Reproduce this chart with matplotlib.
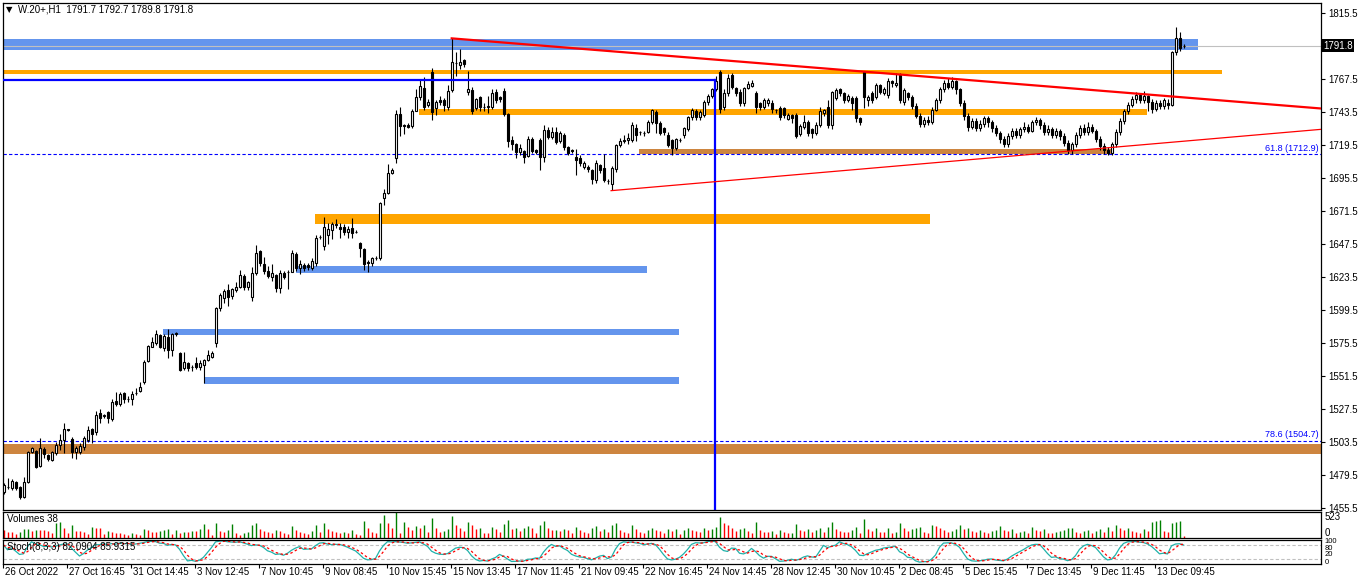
import matplotlib
matplotlib.use("Agg")
import matplotlib.pyplot as plt
import matplotlib.transforms as mtransforms
import numpy as np
import pandas as pd

plt.rcParams['font.family'] = ['Liberation Sans', 'DejaVu Sans']

# ---- price data, one H1 bar per entry ----
opens = [
    1467.6, 1471.0, 1470.0, 1474.8, 1471.0, 1463.7, 1474.7, 1496.7, 1497.4, 1486.5,
    1498.6, 1494.4, 1490.7, 1496.0, 1501.5, 1505.2, 1512.9, 1505.7, 1496.5, 1496.7,
    1499.8, 1505.2, 1512.9, 1511.0, 1524.6, 1522.5, 1525.4, 1520.2, 1533.5, 1531.4,
    1539.1, 1535.3, 1534.8, 1539.0, 1541.0, 1547.5, 1562.7, 1573.1, 1575.4, 1581.5,
    1571.8, 1580.3, 1570.6, 1582.2, 1568.7, 1557.3, 1560.9, 1558.0, 1561.0, 1558.0,
    1559.7, 1563.3, 1565.7, 1575.5, 1600.9, 1608.2, 1614.2, 1609.8, 1614.2, 1616.2,
    1624.4, 1616.2, 1609.3, 1626.3, 1642.5, 1632.9, 1628.0, 1623.9, 1625.1, 1615.4,
    1626.3, 1627.3, 1627.5, 1640.2, 1630.0, 1632.4, 1632.4, 1630.0, 1634.0, 1652.5,
    1646.2, 1654.2, 1657.6, 1661.5, 1660.2, 1660.2, 1656.6, 1659.0, 1656.6, 1648.6,
    1643.8, 1634.7, 1633.6, 1637.2, 1637.2, 1680.8, 1684.9, 1699.0, 1709.9, 1741.9,
    1733.8, 1734.0, 1733.4, 1744.5, 1754.2, 1760.8, 1748.6, 1772.8, 1746.2, 1752.3,
    1752.3, 1747.4, 1759.5, 1779.5, 1777.7, 1781.3, 1758.1, 1759.5, 1746.2, 1754.2,
    1747.4, 1747.2, 1747.4, 1757.9, 1754.2, 1758.8, 1742.1, 1723.2, 1720.3, 1714.3,
    1715.5, 1711.8, 1724.0, 1716.0, 1723.2, 1710.6, 1730.5, 1725.6, 1729.2, 1722.5,
    1726.8, 1718.3, 1715.8, 1711.0, 1710.3, 1703.3, 1703.8, 1701.4, 1694.1, 1705.0,
    1703.1, 1693.7, 1691.0, 1702.1, 1719.6, 1722.7, 1723.2, 1723.2, 1731.7, 1729.3,
    1728.3, 1729.3, 1736.5, 1743.8, 1735.8, 1731.7, 1726.8, 1723.2, 1717.2, 1723.5,
    1726.8, 1731.0, 1739.7, 1744.5, 1739.7, 1741.4, 1751.0, 1755.2, 1760.2, 1772.8,
    1747.0, 1757.1, 1770.4, 1760.8, 1758.3, 1749.9, 1760.8, 1762.4, 1757.1, 1749.9,
    1747.4, 1749.9, 1750.4, 1745.2, 1746.2, 1746.2, 1738.2, 1741.4, 1741.4, 1727.5,
    1732.9, 1736.5, 1731.0, 1728.5, 1734.1, 1742.6, 1747.4, 1734.1, 1753.5, 1760.2,
    1757.1, 1752.3, 1753.5, 1753.5, 1739.0, 1772.8, 1752.3, 1757.6, 1754.7, 1763.2,
    1757.1, 1755.9, 1766.3, 1763.2, 1770.4, 1751.0, 1757.1, 1754.7, 1748.0, 1741.0,
    1735.0, 1738.0, 1736.0, 1745.0, 1752.0, 1760.0, 1765.0, 1762.0, 1766.0, 1760.0,
    1750.0, 1741.0, 1733.0, 1737.0, 1732.0, 1735.0, 1739.0, 1736.0, 1732.0, 1728.0,
    1724.0, 1720.0, 1726.0, 1730.0, 1727.0, 1731.0, 1733.0, 1730.0, 1736.0, 1738.0,
    1734.0, 1729.0, 1731.0, 1727.0, 1730.0, 1726.0, 1721.0, 1716.0, 1720.0, 1727.0,
    1732.0, 1729.0, 1733.0, 1730.0, 1724.0, 1719.0, 1716.0, 1714.0, 1720.0, 1729.0,
    1737.0, 1744.0, 1749.0, 1753.0, 1756.0, 1752.0, 1755.0, 1751.0, 1746.0, 1750.0,
    1748.0, 1750.0, 1749.0, 1787.0, 1797.0, 1791.7,
]
highs = [
    1474.0, 1477.5, 1476.5, 1475.5, 1472.0, 1478.5, 1497.5, 1500.0, 1498.0, 1506.5,
    1500.0, 1495.0, 1497.5, 1503.5, 1509.5, 1517.5, 1513.5, 1507.0, 1500.5, 1503.0,
    1508.0, 1515.0, 1514.0, 1526.5, 1528.0, 1524.0, 1526.0, 1535.0, 1540.0, 1540.0,
    1540.0, 1537.0, 1541.0, 1543.0, 1547.0, 1563.0, 1574.0, 1580.0, 1585.0, 1582.0,
    1582.0, 1585.5, 1583.0, 1584.0, 1569.5, 1569.0, 1562.0, 1560.0, 1565.7, 1563.0,
    1564.0, 1570.7, 1570.0, 1601.5, 1612.0, 1615.0, 1618.3, 1616.0, 1620.0, 1628.5,
    1625.5, 1621.0, 1631.0, 1647.0, 1643.5, 1638.0, 1632.0, 1633.0, 1626.0, 1629.0,
    1628.0, 1628.5, 1643.0, 1642.0, 1636.0, 1634.0, 1634.0, 1637.7, 1654.0, 1654.0,
    1667.5, 1663.0, 1663.5, 1665.5, 1663.0, 1662.0, 1661.0, 1666.3, 1657.5, 1649.0,
    1645.0, 1636.0, 1638.0, 1639.0, 1678.0, 1687.7, 1706.0, 1703.0, 1745.0, 1747.0,
    1735.0, 1735.5, 1745.5, 1760.0, 1767.5, 1769.0, 1753.0, 1775.3, 1752.0, 1755.0,
    1754.0, 1763.0, 1797.3, 1787.4, 1789.1, 1782.0, 1773.4, 1762.0, 1754.0, 1755.0,
    1750.0, 1755.0, 1760.0, 1760.0, 1755.0, 1761.0, 1743.0, 1726.0, 1721.0, 1720.0,
    1716.0, 1726.0, 1725.5, 1717.0, 1725.0, 1734.0, 1733.0, 1733.0, 1733.0, 1730.0,
    1728.0, 1719.0, 1717.0, 1717.0, 1712.0, 1708.0, 1705.0, 1702.0, 1708.5, 1706.0,
    1712.8, 1695.0, 1704.0, 1720.0, 1725.0, 1727.0, 1728.0, 1736.0, 1735.0, 1730.0,
    1730.0, 1738.0, 1746.0, 1745.0, 1737.0, 1732.5, 1729.0, 1724.0, 1725.0, 1725.0,
    1733.0, 1741.0, 1746.5, 1746.0, 1745.0, 1752.0, 1756.5, 1761.0, 1770.0, 1774.0,
    1760.0, 1771.0, 1772.0, 1762.0, 1760.0, 1762.0, 1766.0, 1766.5, 1759.0, 1751.0,
    1754.0, 1754.0, 1752.0, 1746.0, 1748.0, 1747.0, 1743.0, 1742.0, 1743.0, 1735.0,
    1741.4, 1738.0, 1732.0, 1736.0, 1747.0, 1746.0, 1752.3, 1759.0, 1761.0, 1761.0,
    1758.0, 1757.0, 1755.0, 1755.0, 1740.0, 1773.5, 1756.0, 1759.0, 1765.0, 1764.0,
    1762.0, 1768.0, 1767.0, 1772.0, 1772.0, 1761.0, 1758.0, 1756.0, 1750.0, 1743.0,
    1740.0, 1741.0, 1747.0, 1754.0, 1762.0, 1767.0, 1768.0, 1769.0, 1767.0, 1761.0,
    1752.0, 1743.0, 1739.0, 1739.0, 1738.0, 1741.0, 1741.0, 1738.0, 1734.0, 1730.0,
    1726.0, 1728.0, 1732.0, 1732.0, 1733.0, 1736.0, 1735.0, 1738.0, 1740.0, 1739.0,
    1736.0, 1734.0, 1733.0, 1732.0, 1731.0, 1728.0, 1723.0, 1722.0, 1729.0, 1734.0,
    1735.0, 1736.0, 1735.0, 1731.0, 1726.0, 1721.0, 1718.0, 1722.0, 1731.0, 1739.0,
    1746.0, 1751.0, 1755.0, 1758.0, 1757.0, 1759.0, 1756.0, 1753.0, 1752.0, 1752.0,
    1754.0, 1753.0, 1788.0, 1805.0, 1802.0, 1792.7,
]
lows = [
    1466.0, 1469.5, 1469.0, 1469.0, 1462.0, 1463.0, 1474.0, 1496.0, 1485.0, 1485.5,
    1492.0, 1490.0, 1490.0, 1494.5, 1497.9, 1496.0, 1511.5, 1492.0, 1491.5, 1495.0,
    1498.0, 1503.5, 1503.0, 1509.0, 1517.5, 1521.5, 1517.5, 1519.0, 1530.0, 1530.0,
    1532.0, 1533.0, 1530.6, 1538.0, 1540.0, 1546.0, 1562.0, 1572.5, 1574.0, 1572.0,
    1570.0, 1565.0, 1566.5, 1581.0, 1555.0, 1556.0, 1555.0, 1555.5, 1557.0, 1556.0,
    1546.4, 1562.5, 1565.0, 1573.0, 1599.0, 1605.0, 1602.5, 1608.0, 1613.0, 1615.5,
    1614.5, 1614.0, 1606.0, 1625.0, 1632.0, 1626.0, 1623.0, 1621.0, 1612.5, 1611.8,
    1622.0, 1614.7, 1627.0, 1628.0, 1626.0, 1628.0, 1628.5, 1629.0, 1632.0, 1651.0,
    1643.0, 1647.4, 1651.0, 1659.0, 1652.0, 1654.0, 1652.0, 1652.0, 1655.5, 1638.4,
    1629.0, 1627.5, 1632.0, 1636.0, 1636.0, 1676.0, 1684.0, 1698.5, 1706.3, 1726.0,
    1727.6, 1732.0, 1732.0, 1744.0, 1752.0, 1745.0, 1747.0, 1737.7, 1741.4, 1749.0,
    1744.0, 1745.0, 1758.0, 1770.0, 1775.0, 1776.0, 1756.0, 1742.0, 1745.0, 1744.5,
    1744.0, 1743.0, 1746.0, 1750.0, 1751.0, 1741.0, 1718.3, 1716.0, 1710.0, 1712.0,
    1706.3, 1711.0, 1714.0, 1713.0, 1701.4, 1707.4, 1724.0, 1724.0, 1720.0, 1721.0,
    1716.0, 1712.0, 1714.0, 1697.8, 1704.0, 1702.0, 1700.0, 1691.2, 1692.0, 1699.0,
    1693.0, 1691.0, 1687.0, 1700.0, 1718.0, 1721.0, 1720.0, 1722.0, 1722.4, 1727.0,
    1726.0, 1728.0, 1735.0, 1728.5, 1727.0, 1727.0, 1718.0, 1712.3, 1716.0, 1722.0,
    1725.0, 1730.0, 1738.0, 1738.0, 1738.0, 1740.0, 1749.0, 1754.0, 1759.0, 1743.0,
    1745.0, 1755.0, 1760.0, 1755.0, 1748.0, 1748.0, 1760.0, 1762.0, 1742.6, 1745.0,
    1746.0, 1748.0, 1743.0, 1743.0, 1738.0, 1739.0, 1738.0, 1735.3, 1724.4, 1726.0,
    1731.0, 1726.0, 1724.4, 1727.0, 1733.0, 1741.0, 1732.0, 1731.0, 1752.0, 1755.0,
    1750.0, 1751.0, 1745.0, 1736.0, 1734.0, 1746.2, 1748.0, 1750.0, 1753.0, 1757.0,
    1756.0, 1754.0, 1762.0, 1762.0, 1750.0, 1749.0, 1752.0, 1746.0, 1739.0, 1733.0,
    1733.0, 1734.0, 1735.0, 1744.0, 1750.0, 1758.0, 1760.0, 1760.0, 1757.0, 1748.0,
    1738.0, 1730.0, 1731.0, 1730.0, 1730.0, 1733.0, 1733.0, 1729.0, 1726.0, 1721.0,
    1718.0, 1718.0, 1724.0, 1725.0, 1725.0, 1729.0, 1728.0, 1729.0, 1734.0, 1731.0,
    1727.0, 1727.0, 1725.0, 1725.0, 1723.0, 1719.0, 1713.0, 1713.0, 1718.0, 1725.0,
    1727.0, 1727.0, 1728.0, 1722.0, 1716.0, 1713.0, 1712.0, 1712.0, 1718.0, 1727.0,
    1735.0, 1742.0, 1747.0, 1750.0, 1750.0, 1750.0, 1744.0, 1743.0, 1744.0, 1746.0,
    1746.0, 1746.0, 1748.0, 1785.0, 1788.0, 1789.8,
]
closes = [
    1472.4, 1471.2, 1475.5, 1470.0, 1463.7, 1474.7, 1496.7, 1499.2, 1485.8, 1499.2,
    1495.0, 1491.4, 1496.3, 1501.5, 1505.2, 1512.9, 1512.2, 1496.7, 1499.3, 1500.8,
    1506.4, 1512.4, 1509.8, 1523.3, 1521.0, 1523.0, 1521.0, 1532.9, 1531.4, 1538.6,
    1534.8, 1534.8, 1538.6, 1539.6, 1543.5, 1562.0, 1573.6, 1576.3, 1582.0, 1573.0,
    1580.8, 1570.6, 1582.0, 1582.8, 1556.0, 1562.0, 1557.3, 1558.5, 1558.0, 1561.5,
    1563.3, 1567.0, 1568.5, 1600.9, 1610.6, 1613.5, 1609.3, 1614.7, 1616.6, 1625.1,
    1616.6, 1619.8, 1626.3, 1640.9, 1633.6, 1628.0, 1624.4, 1626.3, 1615.9, 1626.8,
    1623.4, 1627.5, 1640.9, 1630.0, 1633.1, 1630.0, 1630.7, 1635.3, 1651.8, 1653.0,
    1660.2, 1658.3, 1661.9, 1662.0, 1658.5, 1656.6, 1658.5, 1655.8, 1656.2, 1645.0,
    1632.9, 1633.6, 1637.2, 1637.6, 1677.6, 1684.9, 1699.0, 1701.4, 1741.9, 1733.6,
    1733.4, 1733.0, 1744.3, 1754.2, 1762.5, 1747.4, 1751.0, 1743.8, 1751.0, 1751.0,
    1748.6, 1758.8, 1779.7, 1779.3, 1780.1, 1778.4, 1760.2, 1744.5, 1752.8, 1747.0,
    1747.2, 1747.6, 1757.1, 1752.3, 1752.8, 1742.1, 1722.7, 1720.3, 1714.3, 1717.2,
    1711.1, 1724.0, 1715.5, 1714.7, 1710.6, 1730.5, 1725.6, 1729.2, 1722.0, 1728.1,
    1717.9, 1713.5, 1715.5, 1708.7, 1706.3, 1706.8, 1701.9, 1694.9, 1706.3, 1701.4,
    1694.1, 1693.5, 1702.6, 1719.6, 1722.5, 1723.4, 1724.5, 1734.1, 1726.8, 1729.0,
    1728.1, 1736.5, 1745.0, 1735.3, 1728.5, 1729.3, 1719.6, 1717.2, 1723.7, 1723.2,
    1731.7, 1739.7, 1745.0, 1739.7, 1743.8, 1751.0, 1755.2, 1760.2, 1766.3, 1745.5,
    1757.1, 1768.0, 1761.9, 1757.1, 1749.9, 1760.8, 1763.7, 1764.8, 1747.4, 1747.4,
    1752.3, 1752.3, 1745.5, 1745.0, 1740.1, 1741.4, 1741.4, 1739.0, 1726.1, 1733.4,
    1736.5, 1728.1, 1728.5, 1734.1, 1744.3, 1745.0, 1734.1, 1758.3, 1759.5, 1757.1,
    1752.3, 1755.2, 1749.9, 1739.0, 1736.5, 1754.7, 1754.7, 1752.3, 1763.2, 1758.3,
    1760.2, 1766.3, 1764.4, 1764.9, 1752.3, 1759.5, 1754.7, 1748.0, 1741.0, 1735.0,
    1738.0, 1736.0, 1745.0, 1752.0, 1760.0, 1765.0, 1762.0, 1766.0, 1760.0, 1750.0,
    1741.0, 1733.0, 1737.0, 1732.0, 1735.0, 1739.0, 1736.0, 1732.0, 1728.0, 1724.0,
    1720.0, 1726.0, 1730.0, 1727.0, 1731.0, 1733.0, 1730.0, 1736.0, 1738.0, 1734.0,
    1729.0, 1731.0, 1727.0, 1730.0, 1726.0, 1721.0, 1716.0, 1720.0, 1727.0, 1732.0,
    1729.0, 1733.0, 1730.0, 1724.0, 1719.0, 1716.0, 1714.0, 1720.0, 1729.0, 1737.0,
    1744.0, 1749.0, 1753.0, 1756.0, 1752.0, 1755.0, 1751.0, 1746.0, 1750.0, 1748.0,
    1752.0, 1749.0, 1787.0, 1797.0, 1790.0, 1791.8,
]
volumes = [
    154, 119, 119, 84, 119, 175, 189, 140, 154, 154,
    154, 133, 105, 294, 315, 210, 105, 259, 133, 133,
    119, 84, 224, 210, 210, 84, 140, 119, 105, 105,
    84, 70, 105, 84, 70, 189, 154, 119, 119, 140,
    154, 175, 84, 154, 105, 119, 119, 140, 140, 175,
    280, 189, 70, 294, 140, 119, 154, 280, 105, 70,
    91, 126, 252, 308, 175, 140, 119, 98, 168, 147,
    105, 84, 238, 161, 119, 98, 84, 133, 266, 119,
    301, 182, 140, 112, 98, 126, 105, 168, 84, 70,
    336, 210, 119, 98, 300, 460, 300, 200, 523, 105,
    315, 224, 161, 245, 210, 266, 112, 406, 203, 126,
    140, 182, 448, 259, 196, 140, 322, 259, 182, 210,
    105, 98, 231, 182, 112, 287, 364, 189, 210, 147,
    196, 245, 203, 105, 266, 343, 196, 154, 168, 133,
    189, 161, 98, 224, 154, 126, 105, 196, 238, 147,
    175, 112, 266, 301, 154, 119, 98, 252, 175, 112,
    91, 168, 203, 161, 140, 98, 182, 147, 175, 84,
    168, 196, 154, 133, 126, 210, 168, 189, 224, 420,
    301, 252, 196, 147, 182, 210, 140, 105, 329, 154,
    126, 112, 140, 84, 154, 126, 98, 105, 280, 168,
    147, 189, 112, 161, 210, 119, 231, 315, 182, 140,
    126, 112, 161, 217, 105, 385, 175, 140, 196, 126,
    119, 203, 98, 112, 301, 196, 133, 175, 203, 224,
    119, 98, 259, 238, 210, 154, 126, 140, 175, 266,
    189, 210, 147, 126, 154, 112, 105, 140, 168, 245,
    161, 133, 182, 98, 119, 147, 105, 217, 161, 133,
    175, 105, 91, 119, 140, 168, 196, 210, 112, 98,
    140, 161, 98, 133, 175, 126, 224, 147, 259, 196,
    161, 203, 133, 112, 91, 175, 140, 329, 350, 364,
    140, 120, 293, 330, 350, 38,
]

date_labels = ["26 Oct 2022", "27 Oct 16:45", "31 Oct 14:45", "3 Nov 12:45",
               "7 Nov 10:45", "9 Nov 08:45", "10 Nov 15:45", "15 Nov 13:45",
               "17 Nov 11:45", "21 Nov 09:45", "22 Nov 16:45", "24 Nov 14:45",
               "28 Nov 12:45", "30 Nov 10:45", "2 Dec 08:45", "5 Dec 15:45",
               "7 Dec 13:45", "9 Dec 11:45", "13 Dec 09:45"]
label_step = 16
price_ticks = [1815.5, 1767.5, 1743.5, 1719.5, 1695.5, 1671.5, 1647.5, 1623.5,
               1599.5, 1575.5, 1551.5, 1527.5, 1503.5, 1479.5, 1455.5]
last_price = 1791.8
stoch_labels = ["100", "80", "20", "0"]

# drawn objects: (bar start, bar end, price low, price high)
blue_zones = [(-2, 298.6, 1788.9, 1796.6), (73.0, 160.9, 1626.8, 1631.6),
              (39.9, 168.9, 1581.5, 1585.9), (50.0, 168.9, 1545.7, 1550.8)]
orange_zones = [(-2, 304.6, 1771.2, 1774.1), (103.9, 285.8, 1741.4, 1745.5),
                (77.9, 231.6, 1662.2, 1669.4)]
brown_zones = [(158.9, 276.8, 1713.0, 1716.7), (-2, 340, 1495.0, 1502.3)]
fib_levels = [(1712.9, "61.8 (1712.9)"), (1504.7, "78.6 (1504.7)")]
trend_thick = [(112.05, 1797.1), (329.5, 1746.1)]
trend_thin = [(151.9, 1686.4), (329.5, 1731.0)]
blue_level = 1767.0
blue_cut = 177.8

W, H = 1362, 585
fig = plt.figure(figsize=(W / 100, H / 100), dpi=100)


def box(left, top, right, bottom):
    return [left / W, 1 - bottom / H, (right - left) / W, (bottom - top) / H]


ax = fig.add_axes(box(3, 3, 1321, 510))
axv = fig.add_axes(box(3, 512, 1321, 538))
axs = fig.add_axes(box(3, 540, 1321, 564))

n = len(closes)
x = np.arange(n)
o = np.array(opens)
h = np.array(highs)
l = np.array(lows)
c = np.array(closes)
xlim = (-0.125, 329.375)

# zones behind candles
for zones, col in ((blue_zones, '#6495ED'), (orange_zones, '#FFA500'), (brown_zones, '#CD853F')):
    for x0, x1, p0, p1 in zones:
        ax.fill_between([x0, x1], p0, p1, color=col, lw=0, zorder=1)

ax.axhline(last_price, color='#C0C0C0', lw=0.8, zorder=2)
for lev, txt in fib_levels:
    ax.axhline(lev, color='#0000FF', lw=0.8, ls=(0, (3, 2)), zorder=2)
    ax.text(328.8, lev + 1.2, txt, color='#0000FF', fontsize=6.5, ha='right', va='bottom')

# candles
ax.vlines(x, l, h, color='black', lw=0.8, zorder=4)
up = c >= o
bottoms = np.minimum(o, c)
heights = np.abs(c - o)
ax.bar(x[up], heights[up], 0.5, bottoms[up], color='white', edgecolor='black', lw=0.8, zorder=5)
ax.bar(x[~up], heights[~up], 0.5, bottoms[~up], color='black', edgecolor='black', lw=0.8, zorder=5)

# lines drawn over the candles
ax.plot([xlim[0] - 1, blue_cut], [blue_level, blue_level], color='#0000FF', lw=1.6, zorder=6)
ax.plot([blue_cut, blue_cut], [blue_level, 1400], color='#0000FF', lw=1.6, zorder=6)
ax.plot(*zip(*trend_thick), color='#FF0000', lw=1.6, zorder=6)
ax.plot(*zip(*trend_thin), color='#FF0000', lw=0.9, zorder=6)

ax.set_xlim(*xlim)
ax.set_ylim(1454.3, 1822.8)
ax.set_xticks([])
ax.yaxis.tick_right()
ax.set_yticks(price_ticks)
ax.set_yticklabels([f"{p:.1f}" for p in price_ticks])
ax.tick_params(axis='y', length=3, width=0.8, pad=2, labelsize=7)
trans = mtransforms.blended_transform_factory(ax.transAxes, ax.transData)
ax.text(1.0015, last_price, f"{last_price:.1f}", transform=trans, color='white', fontsize=7,
        ha='left', va='center', bbox=dict(facecolor='black', edgecolor='none', pad=1.2))

# volumes panel
v = np.array(volumes)
vcol = ['#008000' if i > 0 and v[i] > v[i - 1] else '#FF0000' for i in range(n)]
vcol[0] = '#FF0000'
axv.vlines(x, 0, v, colors=vcol, lw=1.0)
axv.set_xlim(*xlim)
axv.set_ylim(0, 523)
axv.set_xticks([])
axv.set_yticks([])
axv.text(1.003, 1.0, "523", transform=axv.transAxes, fontsize=7, ha='left', va='top')
axv.text(1.003, 0.0, "0", transform=axv.transAxes, fontsize=7, ha='left', va='bottom')
axv.text(0.003, 0.93, f"Volumes {volumes[-1]}", transform=axv.transAxes, fontsize=7,
         ha='left', va='top')

# stochastic 8,3,3 from the bars
hh = pd.Series(h).rolling(8, min_periods=1).max()
ll = pd.Series(l).rolling(8, min_periods=1).min()
num = (pd.Series(c) - ll).rolling(3, min_periods=1).sum()
den = (hh - ll).rolling(3, min_periods=1).sum()
k = 100 * num / den
d = k.rolling(3, min_periods=1).mean()
axs.axhline(80, color='#C0C0C0', lw=0.8, ls=(0, (3, 2)))
axs.axhline(20, color='#C0C0C0', lw=0.8, ls=(0, (3, 2)))
axs.plot(x, k, color='#20B2AA', lw=0.9)
axs.plot(x, d, color='#FF0000', lw=0.9, ls=(0, (2, 2)))
axs.set_xlim(*xlim)
axs.set_ylim(-2, 102)
axs.set_yticks([])
# the panel is too short for four labels, they are squeezed as in the terminal
for lab, yy in zip(stoch_labels, (0.93, 0.64, 0.38, 0.08)):
    axs.text(1.003, yy, lab, transform=axs.transAxes, fontsize=5.5, ha='left', va='center')
axs.text(0.003, 0.93, "Stoch(8,3,3) 82.0904 85.9315", transform=axs.transAxes, fontsize=7,
         ha='left', va='top')

tick_pos = [i * label_step - 0.125 for i in range(len(date_labels))]
axs.set_xticks(tick_pos)
axs.set_xticklabels([])
axs.tick_params(axis='x', length=3, width=0.8, direction='out')
for tp, lab in zip(tick_pos, date_labels):
    axs.text(tp + 0.4, -0.12, lab, transform=mtransforms.blended_transform_factory(axs.transData, axs.transAxes),
             fontsize=7, ha='left', va='top')

for a in (ax, axv, axs):
    for s in a.spines.values():
        s.set_linewidth(0.9)
        s.set_color('black')

fig.text(6 / W, 1 - 10 / H, "\u25bc", fontsize=6, ha='left', va='center', family='DejaVu Sans')
fig.text(18 / W, 1 - 10 / H, "W.20+,H1  1791.7 1792.7 1789.8 1791.8", fontsize=7,
         ha='left', va='center')

fig.savefig("out.png", dpi=100)
